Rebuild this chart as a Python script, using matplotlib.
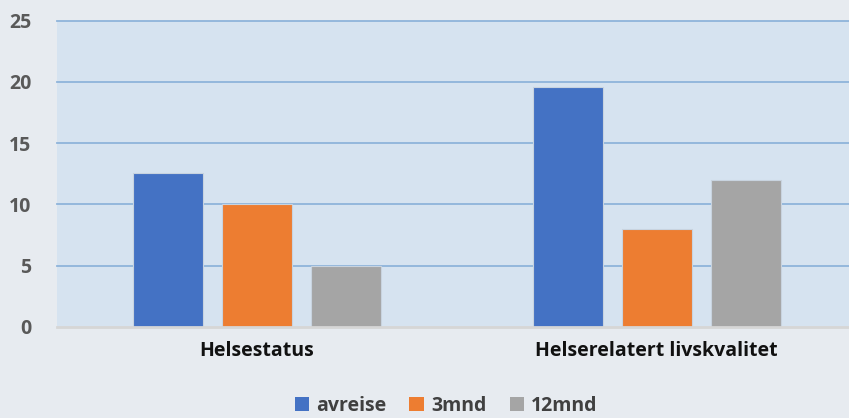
import matplotlib.pyplot as plt
from matplotlib.patches import Patch
import numpy as np

# data
categories = ["Helsestatus", "Helserelatert livskvalitet"]
series_names = ["avreise", "3mnd", "12mnd"]
avreise = [12.6, 19.6]
mnd3 = [10.0, 8.0]
mnd12 = [5.0, 12.0]
y_ticks = [0, 5, 10, 15, 20, 25]

colors = ["#4472C4", "#ED7D31", "#A5A5A5"]
FONT = "Open Sans"
W, H = 849, 418

fig = plt.figure(figsize=(W / 100, H / 100), dpi=100)
fig.patch.set_facecolor("#E7EBF0")

# plot area in pixel terms: left 56.5, top 20.5, baseline 327
ax = fig.add_axes([56.5 / W, (H - 327) / H, (W - 56.5) / W, (327 - 20.5) / H])
ax.set_facecolor("#D6E3F0")

x = np.arange(len(categories))
bar_w = 0.175
step = 0.2225
for i, vals in enumerate([avreise, mnd3, mnd12]):
    ax.bar(x + (i - 1) * step, vals, width=bar_w, color=colors[i],
           edgecolor="#C8D3DF", linewidth=0.8, zorder=3)

ax.set_xlim(-0.5, -0.5 + (W - 56.5) / 400)
ax.set_ylim(0, 25)
ax.set_yticks(y_ticks)
ax.set_yticklabels([str(t) for t in y_ticks], fontsize=14, fontweight="bold",
                   color="#595959", family=FONT)
ax.set_xticks(x)
ax.set_xticklabels(categories, fontsize=14, fontweight="bold",
                   color="#111111", family=FONT)
ax.tick_params(axis="both", length=0)
ax.tick_params(axis="y", pad=18)
ax.tick_params(axis="x", pad=10)

for t in y_ticks[1:]:
    ax.axhline(t, color="#8FB4DA", lw=1.3, zorder=1, clip_on=False)
ax.axhline(0, color="#D6D6D6", lw=2, zorder=4, clip_on=False)

for s in ax.spines.values():
    s.set_visible(False)

handles = [Patch(facecolor=c, edgecolor="none") for c in colors]
fig.legend(handles, series_names, loc="center", bbox_to_anchor=(446 / W, 12 / H),
           ncol=3, frameon=False, handlelength=0.75, handleheight=0.75,
           handletextpad=0.35, columnspacing=1.2,
           prop={"family": FONT, "weight": "bold", "size": 14},
           labelcolor="#404040")

fig.savefig("out.png", dpi=100, facecolor=fig.get_facecolor())
